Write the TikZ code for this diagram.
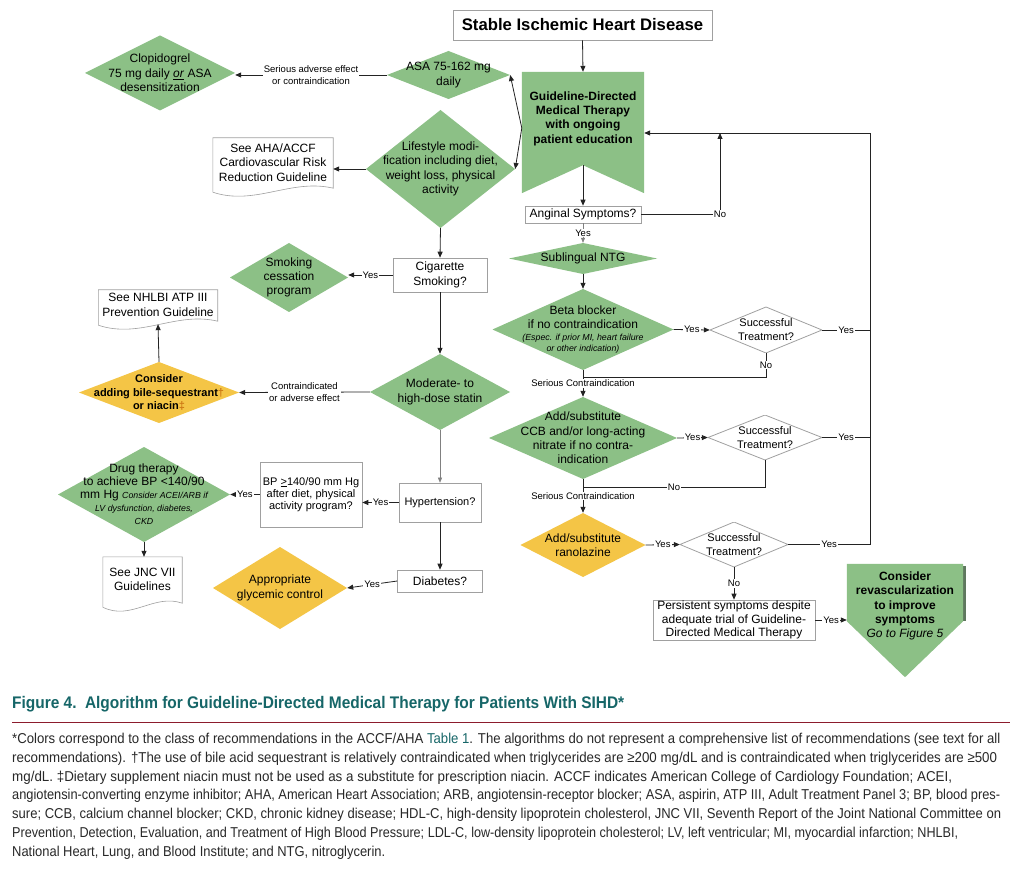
\documentclass[tikz,border=0pt]{standalone}
\usepackage{graphicx}
\usepackage{fontspec}
\setmainfont{Liberation Sans}
\newfontfamily\capfont[FakeStretch=0.92]{Liberation Sans}
\usetikzlibrary{arrows.meta,backgrounds}

\definecolor{gdgreen}{RGB}{140,192,134}
\definecolor{gdyellow}{RGB}{244,197,70}
\definecolor{boxgray}{RGB}{160,160,160}
\definecolor{linecol}{RGB}{35,35,35}
\definecolor{capteal}{RGB}{22,102,104}
\definecolor{rulered}{RGB}{140,28,45}
\definecolor{daggercol}{RGB}{205,120,20}
\definecolor{shadowgreen}{RGB}{95,120,95}
\definecolor{notegray}{RGB}{40,40,40}

\newcommand{\bodyfont}{\fontsize{12}{14.3}\selectfont}
\newcommand{\smallit}{\fontsize{8.8}{10.5}\selectfont\itshape}
\newcommand{\fitline}[2]{\resizebox{#1}{\height}{#2}}

% document shape with wavy bottom, drawn round a named node
\newcommand{\docshape}[2]{%
  \filldraw[fill=white, draw=boxgray, line width=0.6pt] (#1.north west) -- (#1.north east)
    -- ([yshift=-1pt]#1.south east) .. controls +(-#2pt,10pt) and +(#2pt,-14pt) .. ([yshift=-5pt]#1.south west) -- cycle;}

\tikzset{
  sz/.style 2 args={minimum width=#1, minimum height=#2},
  box/.style={draw=boxgray, fill=white, line width=0.6pt, inner sep=1pt, align=center, font=\bodyfont},
  dia/.style={rectangle, inner sep=0pt, align=center, font=\bodyfont,
    path picture={\fill[#1] (path picture bounding box.west) -- (path picture bounding box.north)
      -- (path picture bounding box.east) -- (path picture bounding box.south) -- cycle;}},
  test/.style={rectangle, inner sep=0pt, align=center, font=\fontsize{11}{14}\selectfont,
    path picture={\filldraw[fill=white, draw=boxgray, line width=0.8pt] (path picture bounding box.west)
      -- (path picture bounding box.north) -- (path picture bounding box.east)
      -- (path picture bounding box.south) -- cycle;}},
  doc/.style={rectangle, inner sep=0pt, align=center, font=\bodyfont},
  conn/.style={draw=linecol, line width=0.8pt},
  arr/.style={conn, -{Triangle[length=6pt,width=5pt]}},
  thinarr/.style={draw=gray, line width=0.5pt, -{Triangle[length=5pt,width=4pt]}},
  lbl/.style={font=\fontsize{9.5}{11.5}\selectfont, fill=white, inner sep=1pt, align=center},
}

\begin{document}
\begin{tikzpicture}[x=1pt, y=-1pt]
  \useasboundingbox (0,0) rectangle (1017,874);

  \def\retx{870}      % column of the return line
  \def\rety{133}      % height where it meets the therapy banner

  % left column
  \node[box, sz={259}{30}, font=\fontsize{16.7}{20}\selectfont\bfseries] (sihd) at (582.5,25) {Stable Ischemic Heart Disease};
  \node[rectangle, sz={122}{93}, inner sep=0pt, align=center, font=\bodyfont\bfseries] (gdmt) at (583,118.5)
    {Guideline-Directed\\Medical Therapy\\with ongoing\\patient education};
  \node[dia=gdgreen, sz={123}{48}] (asa) at (448.5,75) {ASA 75-162 mg\\daily};
  \node[dia=gdgreen, sz={150}{75}] (clop) at (160,73) {Clopidogrel\\75 mg daily \underline{\textit{or}} ASA\\desensitization};
  \node[dia=gdgreen, sz={149}{118}] (life) at (440.5,169) {Lifestyle modi-\\fication including diet,\\weight loss, physical\\activity};
  \node[doc, sz={120}{49}] (aha) at (273,162.5) {See AHA/ACCF\\Cardiovascular Risk\\Reduction Guideline};
  \node[box, sz={94}{34}] (cig) at (440,275) {Cigarette\\Smoking?};
  \node[dia=gdgreen, sz={118}{69}] (smoke) at (289,277.5) {Smoking\\cessation\\program};
  \node[dia=gdgreen, sz={140}{76}] (statin) at (440,392) {Moderate- to\\high-dose statin};
  \node[dia=gdyellow, sz={160}{61}, font=\fontsize{11}{13.5}\selectfont\bfseries] (bile) at (159,392.5)
    {Consider\\adding bile-sequestrant\textcolor{daggercol}{†}\\or niacin\textcolor{daggercol}{‡}};
  \node[doc, sz={119}{30}] (nhlbi) at (158,305) {See NHLBI ATP III\\Prevention Guideline};
  \node[box, sz={82}{39}, font=\fontsize{11}{13}\selectfont] (hyp) at (440,502.5) {Hypertension?};
  \node[box, sz={102}{65}, font=\fontsize{11}{12.3}\selectfont] (bp) at (311,494.5) {BP \underline{>}140/90 mm Hg\\after diet, physical\\activity program?};
  \node[dia=gdgreen, sz={172}{95}, font=\fontsize{12}{13}\selectfont] (drug) at (144,494.5)
    {Drug therapy\\to achieve BP <140/90\\mm Hg {\smallit Consider ACEI/ARB if}\\{\smallit LV dysfunction, diabetes,}\\{\smallit CKD}};
  \node[doc, sz={79}{45}] (jnc) at (142.5,579.5) {See JNC VII\\Guidelines};
  \node[box, sz={85}{22}] (diab) at (440,581) {Diabetes?};
  \node[dia=gdyellow, sz={134}{82}] (glyc) at (280,588) {Appropriate\\glycemic control};

  % right column
  \node[box, sz={116}{17}, inner sep=0pt] (angina) at (583,214.5) {Anginal Symptoms?};
  \node[dia=gdgreen, sz={148}{31}] (ntg) at (583,258.5) {Sublingual NTG};
  \node[dia=gdgreen, sz={181}{81}] (beta) at (583,329.5)
    {Beta blocker\\if no contraindication\\[-3pt]{\smallit (Espec. if prior MI, heart failure}\\[-3pt]{\smallit or other indication)}};
  \node[test, sz={112}{46}] (st1) at (766,330) {Successful\\Treatment?};
  \node[dia=gdgreen, sz={188}{82}] (ccb) at (583,438) {Add/substitute\\CCB and/or long-acting\\nitrate if no contra-\\indication};
  \node[test, sz={114}{45}] (st2) at (765,437.5) {Successful\\Treatment?};
  \node[dia=gdyellow, sz={125}{64}] (rano) at (583,545) {Add/substitute\\ranolazine};
  \node[test, sz={108}{45}] (st3) at (734,544.5) {Successful\\Treatment?};
  \node[box, sz={162}{40}, inner sep=0pt, font=\fontsize{12}{13.5}\selectfont] (pers) at (734,620)
    {Persistent symptoms despite\\adequate trial of Guideline-\\Directed Medical Therapy};
  \node[rectangle, sz={116}{84}, inner sep=0pt, align=center, font=\bodyfont\bfseries] (revasc) at (905,606)
    {Consider\\revascularization\\to improve\\symptoms\\{\normalfont\bodyfont\itshape Go to Figure 5}};

  \coordinate (gdleft) at ([yshift=-9.5pt]gdmt.west);
  \coordinate (ret) at (\retx,\rety);
  \coordinate (nojoin) at (720,\rety);
  \coordinate (j1) at (583,377);
  \coordinate (j2) at (583,487);

  % shapes behind the texts
  \begin{scope}[on background layer]
    \fill[white] (0,0) rectangle (1017,874);
    \fill[gdgreen] (gdmt.north west) -- (gdmt.north east) -- ([yshift=-28pt]gdmt.south east)
      -- (gdmt.south) -- ([yshift=-28pt]gdmt.south west) -- cycle;
    \fill[shadowgreen] ([xshift=3pt,yshift=-2pt]revasc.north east) rectangle ([yshift=27pt]revasc.south east);
    \fill[gdgreen] (revasc.north west) -- (revasc.north east) -- ([yshift=27pt]revasc.south east)
      -- ([yshift=-29pt]revasc.south) -- ([yshift=27pt]revasc.south west) -- cycle;
    \docshape{aha}{42}
    \docshape{nhlbi}{42}
    \docshape{jnc}{28}
  \end{scope}

  % connectors, left
  \draw[arr] (sihd.south) -- (gdmt.north);
  \draw[arr] (gdleft) -- (asa.east);
  \draw[arr] (gdleft) -- (life.east);
  \draw[arr] (asa.west) -- node[lbl]{Serious adverse effect\\or contraindication} (asa.west -| clop.east);
  \draw[arr] (life.west) -- (life.west -| aha.east);
  \draw[arr] (life.south) -- (cig.north);
  \draw[arr] (cig.west) -- node[lbl]{Yes} (cig.west -| smoke.east);
  \draw[arr] (cig.south) -- (statin.north);
  \draw[arr] (statin.west) -- node[lbl]{Contraindicated\\or adverse effect} (bile.east);
  \draw[arr] (bile.north) -- ([yshift=-4pt]nhlbi.south);
  \draw[thinarr] (statin.south) -- (hyp.north);
  \draw[arr] (hyp.west) -- node[lbl]{Yes} (hyp.west -| bp.east);
  \draw[arr] (bp.west) -- node[lbl]{Yes} (bp.west -| drug.east);
  \draw[arr] (drug.south) -- (drug.south |- jnc.north);
  \draw[arr] (hyp.south) -- (diab.north);
  \draw[arr] (diab.west) -- node[lbl]{Yes} (glyc.east);

  % connectors, right
  \draw[arr] (gdmt.south) -- (angina.north);
  \draw[arr] (angina.east) -| node[lbl, pos=0.5]{No} (nojoin);
  \draw[thinarr] (angina.south) -- node[lbl]{Yes} (ntg.north);
  \draw[arr] (ntg.south) -- (beta.north);
  \draw[arr] (beta.east) -- node[lbl]{Yes} (st1.west);
  \draw[conn] (st1.east) -- node[lbl]{Yes} (st1.east -| ret);
  \draw[conn] (st1.south) |- node[lbl, pos=0.25]{No} (j1);
  \draw[arr] (beta.south) -- node[lbl]{Serious Contraindication} (ccb.north);
  \draw[arr] (ccb.east) -- node[lbl]{Yes} (st2.west);
  \draw[conn] (st2.east) -- node[lbl]{Yes} (st2.east -| ret);
  \draw[conn] (st2.south) |- node[lbl, pos=0.75]{No} (j2);
  \draw[arr] (ccb.south) -- node[lbl]{Serious Contraindication} (rano.north);
  \draw[arr] (rano.east) -- node[lbl]{Yes} (st3.west);
  \draw[arr] (st3.east) -- node[lbl]{Yes} (st3.east -| ret) -- (ret) -- (ret -| gdmt.east);
  \draw[arr] (st3.south) -- node[lbl]{No} (pers.north);
  \draw[arr] (pers.east) -- node[lbl]{Yes} (pers.east -| revasc.west);

  % caption
  \node[anchor=base west, inner sep=0pt, text=capteal, font=\capfont\fontsize{16.8}{18}\selectfont\bfseries] (title) at (12,708)
    {Figure 4.\hspace{0.5em}Algorithm for Guideline-Directed Medical Therapy for Patients With SIHD*};
  \draw[rulered, line width=1pt] (12,722) -- (1010,722);
  \node[anchor=north west, inner sep=0pt, align=left, text=notegray, font=\capfont\fontsize{14.3}{18.8}\selectfont] (notes) at (12,733)
    {\fitline{988pt}{*Colors correspond to the class of recommendations in the ACCF/AHA \textcolor{capteal}{Table 1}. The algorithms do not represent a comprehensive list of recommendations (see text for all}\\
     \fitline{985pt}{recommendations). †The use of bile acid sequestrant is relatively contraindicated when triglycerides are ≥200 mg/dL and is contraindicated when triglycerides are ≥500}\\
     \fitline{940pt}{mg/dL. ‡Dietary supplement niacin must not be used as a substitute for prescription niacin. ACCF indicates American College of Cardiology Foundation; ACEI,}\\
     \fitline{988pt}{angiotensin-converting enzyme inhibitor; AHA, American Heart Association; ARB, angiotensin-receptor blocker; ASA, aspirin, ATP III, Adult Treatment Panel 3; BP, blood pres-}\\
     \fitline{989pt}{sure; CCB, calcium channel blocker; CKD, chronic kidney disease; HDL-C, high-density lipoprotein cholesterol, JNC VII, Seventh Report of the Joint National Committee on}\\
     \fitline{946pt}{Prevention, Detection, Evaluation, and Treatment of High Blood Pressure; LDL-C, low-density lipoprotein cholesterol; LV, left ventricular; MI, myocardial infarction; NHLBI,}\\
     \fitline{373pt}{National Heart, Lung, and Blood Institute; and NTG, nitroglycerin.}};
\end{tikzpicture}
\end{document}
